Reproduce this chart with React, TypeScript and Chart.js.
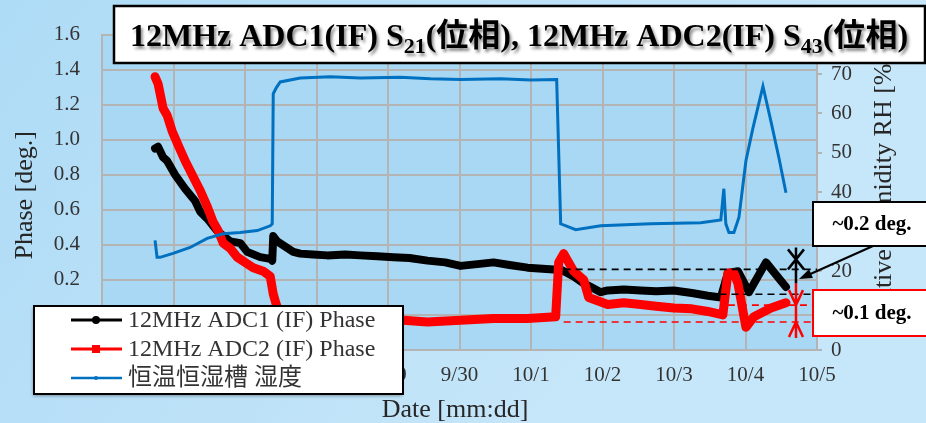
import React, { useEffect, useRef } from 'react';
import { Chart, registerables } from 'chart.js';

Chart.register(...registerables);

// ---- data (x = days since 9/25 00:00) ----
const dateLabels = ['9/25', '9/26', '9/27', '9/28', '9/29', '9/30', '10/1', '10/2', '10/3', '10/4', '10/5'];

const adc1Days = [0.742, 0.784, 0.854, 0.91, 1.022, 1.162, 1.303, 1.373, 1.471, 1.611, 1.793, 1.933, 2.031, 2.213, 2.353, 2.381, 2.395, 2.451, 2.563, 2.675, 2.773, 2.95, 3.151, 3.4, 3.613, 3.85, 4.076, 4.3, 4.552, 4.8, 5.014, 5.25, 5.476, 5.7, 5.952, 6.317, 6.415, 6.597, 6.737, 6.835, 6.975, 7.073, 7.3, 7.535, 7.75, 7.997, 8.25, 8.473, 8.655, 8.754, 8.894, 9.048, 9.286, 9.566];
const adc1Phase = [0.95, 0.96, 0.9, 0.88, 0.8, 0.72, 0.65, 0.59, 0.55, 0.48, 0.42, 0.41, 0.36, 0.33, 0.32, 0.31, 0.45, 0.42, 0.39, 0.36, 0.35, 0.345, 0.34, 0.345, 0.34, 0.335, 0.33, 0.325, 0.31, 0.3, 0.28, 0.29, 0.3, 0.285, 0.27, 0.26, 0.26, 0.22, 0.18, 0.16, 0.13, 0.14, 0.145, 0.14, 0.135, 0.14, 0.125, 0.11, 0.1, 0.24, 0.25, 0.13, 0.3, 0.16];

const adc2Days = [0.742, 0.784, 0.854, 0.91, 0.98, 1.064, 1.162, 1.261, 1.373, 1.471, 1.555, 1.625, 1.695, 1.793, 1.891, 2.003, 2.115, 2.255, 2.353, 2.395, 2.437, 2.493, 2.633, 3.053, 3.613, 4.216, 4.552, 5.014, 5.476, 5.952, 6.345, 6.387, 6.457, 6.597, 6.737, 6.807, 7.073, 7.297, 7.535, 7.75, 7.997, 8.25, 8.473, 8.683, 8.754, 8.838, 8.894, 9.006, 9.118, 9.356, 9.566];
const adc2Phase = [1.36, 1.32, 1.18, 1.14, 1.05, 0.97, 0.88, 0.8, 0.71, 0.62, 0.53, 0.48, 0.41, 0.38, 0.33, 0.3, 0.27, 0.25, 0.22, 0.12, 0.06, 0.0, -0.03, -0.04, -0.03, -0.03, -0.04, -0.03, -0.02, -0.02, -0.01, 0.3, 0.35, 0.25, 0.2, 0.1, 0.06, 0.07, 0.06, 0.05, 0.04, 0.035, 0.02, 0.0, 0.24, 0.24, 0.18, -0.07, -0.01, 0.04, 0.07];

const rhDays = [0.742, 0.77, 0.812, 0.994, 1.232, 1.471, 1.695, 1.933, 2.171, 2.353, 2.381, 2.395, 2.437, 2.493, 2.773, 3.193, 3.613, 4.174, 4.594, 5.014, 5.574, 5.994, 6.359, 6.415, 6.625, 6.975, 7.675, 8.375, 8.655, 8.697, 8.725, 8.768, 8.838, 8.908, 9.006, 9.104, 9.244, 9.356, 9.468, 9.566];
const rhValues = [27.8, 23.5, 23.5, 24.5, 26, 28.3, 29.5, 29.8, 30.3, 31.5, 32, 65, 66.5, 68, 69, 69.3, 69, 69.2, 68.8, 68.6, 68.8, 68.5, 68.6, 32, 30.5, 31.5, 32, 32.3, 33, 40.9, 32, 29.8, 29.8, 33.6, 48, 56.3, 66.9, 58, 48.7, 39.9];

const seriesNames = ['12MHz ADC1 (IF) Phase', '12MHz ADC2 (IF) Phase', '恒温恒湿槽 湿度'];
const seriesColors = ['#000000', '#ff0000', '#0070c0'];

// annotation levels (phase, deg.) and start days of the dashed guide lines
const adc1BandLevels = [0.26, 0.118];
const adc1BandStart = [6.457, 8.3];
const adc2BandLevels = [0.056, -0.04];
const adc2BandStart = [8.754, 6.457];
const bandMarkerDay = 9.706;
const bandNotes = ['~0.2 deg.', '~0.1 deg.'];

const axisTitles = { y: 'Phase [deg.]', x: 'Date [mm:dd]', y1: 'Relative Humidity RH [%]' };

const SERIF = "'Liberation Serif', 'Noto Sans CJK JP', serif";

function toPoints(xs: number[], ys: number[]) {
  return xs.map((x, i) => ({ x, y: ys[i] }));
}

const decoPlugin = {
  id: 'deco',
  beforeDraw(chart: any) {
    const { ctx, chartArea: a, width, height } = chart;
    ctx.save();
    const g = ctx.createLinearGradient(0, 0, width * 0.6, height);
    g.addColorStop(0, '#aedbf6');
    g.addColorStop(1, '#c6e6f9');
    ctx.fillStyle = g;
    ctx.fillRect(0, 0, width, height);
    ctx.fillStyle = '#a8d8f3';
    ctx.fillRect(a.left, a.top, a.right - a.left, a.bottom - a.top);
    ctx.restore();
  },
  afterDatasetsDraw(chart: any) {
    const { ctx, scales } = chart;
    const xs = scales.x;
    const ys = scales.y;
    const xEnd = xs.getPixelForValue(10);
    ctx.save();
    ctx.setLineDash([7, 5]);
    ctx.lineWidth = 1.6;
    ctx.strokeStyle = '#000';
    adc1BandLevels.forEach((v, i) => {
      const y = ys.getPixelForValue(v);
      ctx.beginPath();
      ctx.moveTo(xs.getPixelForValue(adc1BandStart[i]), y);
      ctx.lineTo(xEnd, y);
      ctx.stroke();
    });
    ctx.strokeStyle = '#ff0000';
    adc2BandLevels.forEach((v, i) => {
      const y = ys.getPixelForValue(v);
      ctx.beginPath();
      ctx.moveTo(xs.getPixelForValue(adc2BandStart[i]), y);
      ctx.lineTo(xEnd, y);
      ctx.stroke();
    });
    ctx.setLineDash([]);
    const mx = xs.getPixelForValue(bandMarkerDay);
    // black marker
    const b1 = ys.getPixelForValue(adc1BandLevels[0]);
    ctx.strokeStyle = '#000';
    ctx.lineWidth = 2.5;
    ctx.beginPath();
    ctx.moveTo(mx, b1 - 22);
    ctx.lineTo(mx, b1 + 14);
    ctx.moveTo(mx - 8, b1 - 20);
    ctx.lineTo(mx + 8, b1);
    ctx.moveTo(mx + 8, b1 - 20);
    ctx.lineTo(mx - 8, b1);
    ctx.stroke();
    // red marker
    const r1 = ys.getPixelForValue(adc2BandLevels[0]);
    const r2 = ys.getPixelForValue(adc2BandLevels[1]);
    ctx.strokeStyle = '#ff0000';
    ctx.beginPath();
    ctx.moveTo(mx, r1 - 22);
    ctx.lineTo(mx, r2 + 16);
    ctx.moveTo(mx - 7, r1 - 15);
    ctx.lineTo(mx, r1);
    ctx.lineTo(mx + 7, r1 - 15);
    ctx.moveTo(mx - 7, r2 + 15);
    ctx.lineTo(mx, r2);
    ctx.lineTo(mx + 7, r2 + 15);
    ctx.stroke();
    ctx.restore();
  },
  afterDraw(chart: any) {
    const { ctx, chartArea: a } = chart;
    const midY = (a.top + a.bottom) / 2 + 3;
    ctx.save();
    // axis titles
    ctx.fillStyle = '#262626';
    ctx.font = `26px ${SERIF}`;
    ctx.textAlign = 'center';
    ctx.textBaseline = 'middle';
    ctx.save();
    ctx.translate(25, midY);
    ctx.rotate(-Math.PI / 2);
    ctx.fillText(axisTitles.y, 0, 0);
    ctx.restore();
    ctx.save();
    ctx.translate(884, midY);
    ctx.rotate(-Math.PI / 2);
    ctx.fillText(axisTitles.y1, 0, 0);
    ctx.restore();
    ctx.fillText(axisTitles.x, 455, 410);

    // legend
    ctx.shadowColor = 'rgba(0,0,0,0.35)';
    ctx.shadowBlur = 3;
    ctx.shadowOffsetX = -1;
    ctx.shadowOffsetY = 2;
    ctx.fillStyle = '#fff';
    ctx.fillRect(34, 306, 369, 88);
    ctx.shadowColor = 'transparent';
    ctx.strokeStyle = '#000';
    ctx.lineWidth = 2;
    ctx.strokeRect(34, 306, 369, 88);
    const rows = [320, 349, 378];
    rows.forEach((ry, i) => {
      ctx.strokeStyle = seriesColors[i];
      ctx.lineWidth = i === 2 ? 2.5 : 3;
      ctx.beginPath();
      ctx.moveTo(71, ry);
      ctx.lineTo(122, ry);
      ctx.stroke();
      ctx.fillStyle = seriesColors[i];
      if (i === 0) {
        ctx.beginPath();
        ctx.arc(96, ry, 4, 0, Math.PI * 2);
        ctx.fill();
      } else if (i === 1) {
        ctx.fillRect(92, ry - 4, 8, 8);
      } else {
        ctx.beginPath();
        ctx.arc(96, ry, 2, 0, Math.PI * 2);
        ctx.fill();
      }
      ctx.fillStyle = '#333';
      ctx.font = `24px ${SERIF}`;
      ctx.textAlign = 'left';
      ctx.textBaseline = 'middle';
      ctx.fillText(seriesNames[i], 128, ry + 1);
    });

    // title box
    ctx.fillStyle = '#fff';
    ctx.fillRect(114, 6, 811, 57);
    ctx.strokeStyle = '#000';
    ctx.lineWidth = 2.5;
    ctx.strokeRect(114, 6, 811, 57);
    const big = `bold 32px ${SERIF}`;
    const small = `bold 22px ${SERIF}`;
    const parts: [string, boolean][] = [
      ['12MHz ADC1(IF) S', false],
      ['21', true],
      ['(位相), 12MHz ADC2(IF) S', false],
      ['43', true],
      ['(位相)', false],
    ];
    let total = 0;
    parts.forEach(([t, sub]) => {
      ctx.font = sub ? small : big;
      total += ctx.measureText(t).width;
    });
    let tx = 519 - total / 2;
    const base = 46;
    ctx.textAlign = 'left';
    ctx.textBaseline = 'alphabetic';
    ctx.fillStyle = '#000';
    ctx.shadowColor = 'rgba(0,0,0,0.45)';
    ctx.shadowBlur = 3;
    ctx.shadowOffsetX = 2;
    ctx.shadowOffsetY = 3;
    parts.forEach(([t, sub]) => {
      ctx.font = sub ? small : big;
      ctx.fillText(t, tx, sub ? base + 7 : base);
      tx += ctx.measureText(t).width;
    });
    ctx.shadowColor = 'transparent';

    // note boxes
    ctx.fillStyle = '#fff';
    ctx.fillRect(813, 202, 120, 44);
    ctx.strokeStyle = '#000';
    ctx.lineWidth = 2;
    ctx.strokeRect(813, 202, 120, 44);
    ctx.fillStyle = '#fff';
    ctx.fillRect(813, 290, 120, 46);
    ctx.strokeStyle = '#ff0000';
    ctx.lineWidth = 2;
    ctx.strokeRect(813, 290, 120, 46);
    ctx.fillStyle = '#000';
    ctx.font = `bold 21px ${SERIF}`;
    ctx.textAlign = 'center';
    ctx.textBaseline = 'middle';
    ctx.fillText(bandNotes[0], 872, 225);
    ctx.fillText(bandNotes[1], 872, 314);

    // callout arrow
    const tipX = 799;
    const tipY = 279;
    const fromX = 873;
    const fromY = 246;
    ctx.strokeStyle = '#000';
    ctx.lineWidth = 2;
    ctx.beginPath();
    ctx.moveTo(fromX, fromY);
    ctx.lineTo(tipX + 8, tipY - 3.5);
    ctx.stroke();
    const ang = Math.atan2(tipY - fromY, tipX - fromX);
    ctx.beginPath();
    ctx.moveTo(tipX, tipY);
    ctx.lineTo(tipX - 14 * Math.cos(ang - 0.35), tipY - 14 * Math.sin(ang - 0.35));
    ctx.lineTo(tipX - 14 * Math.cos(ang + 0.35), tipY - 14 * Math.sin(ang + 0.35));
    ctx.closePath();
    ctx.fill();
    ctx.restore();
  },
};

export default function App() {
  const ref = useRef<HTMLCanvasElement | null>(null);
  useEffect(() => {
    if (!ref.current) return;
    Chart.defaults.font.family = SERIF;
    const tickFont = { size: 21, family: SERIF };
    const chart = new Chart(ref.current, {
      type: 'line',
      data: {
        datasets: [
          {
            label: seriesNames[2],
            data: toPoints(rhDays, rhValues),
            yAxisID: 'y1',
            borderColor: seriesColors[2],
            backgroundColor: seriesColors[2],
            borderWidth: 3,
            pointRadius: 0,
            order: 0,
            tension: 0,
          },
          {
            label: seriesNames[1],
            data: toPoints(adc2Days, adc2Phase),
            yAxisID: 'y',
            borderColor: seriesColors[1],
            backgroundColor: seriesColors[1],
            borderWidth: 9,
            borderJoinStyle: 'round',
            borderCapStyle: 'round',
            pointRadius: 0,
            order: 1,
            tension: 0,
          },
          {
            label: seriesNames[0],
            data: toPoints(adc1Days, adc1Phase),
            yAxisID: 'y',
            borderColor: seriesColors[0],
            backgroundColor: seriesColors[0],
            borderWidth: 8,
            borderJoinStyle: 'round',
            borderCapStyle: 'round',
            pointRadius: 0,
            order: 2,
            tension: 0,
          },
        ],
      },
      options: {
        responsive: false,
        devicePixelRatio: 1,
        animation: false,
        layout: { padding: { top: 33, left: 0, right: 0, bottom: 0 } },
        plugins: { legend: { display: false }, tooltip: { enabled: false } },
        scales: {
          x: {
            type: 'linear',
            min: 0,
            max: 10,
            afterFit: (s: any) => { s.height = 73; },
            ticks: {
              stepSize: 1,
              padding: 13,
              color: '#333',
              font: tickFont,
              maxRotation: 0,
              callback: (v: any) => dateLabels[Math.round(Number(v))] ?? '',
            },
            grid: { color: '#b4b4b4', lineWidth: 2, drawTicks: false },
            border: { color: '#b4b4b4', width: 2 },
          },
          y: {
            position: 'left',
            min: -0.2,
            max: 1.6,
            afterFit: (s: any) => { s.width = 102; },
            ticks: {
              stepSize: 0.2,
              padding: 22,
              color: '#333',
              font: tickFont,
              callback: (v: any) => Number(v).toFixed(1),
            },
            grid: { color: '#b4b4b4', lineWidth: 2, drawTicks: false },
            border: { color: '#b4b4b4', width: 2 },
          },
          y1: {
            position: 'right',
            min: 0,
            max: 80,
            afterFit: (s: any) => { s.width = 109; },
            ticks: {
              stepSize: 10,
              padding: 9,
              color: '#333',
              font: tickFont,
            },
            grid: { drawOnChartArea: false, drawTicks: true, tickLength: 5, color: '#b4b4b4', lineWidth: 2 },
            border: { color: '#b4b4b4', width: 2 },
          },
        },
      },
      plugins: [decoPlugin],
    } as any);
    return () => chart.destroy();
  }, []);
  return (
    <div style={{ position: 'fixed', left: 0, top: 0, width: 926, height: 423 }}>
      <canvas ref={ref} width={926} height={423} style={{ display: 'block', width: 926, height: 423 }} />
    </div>
  );
}
